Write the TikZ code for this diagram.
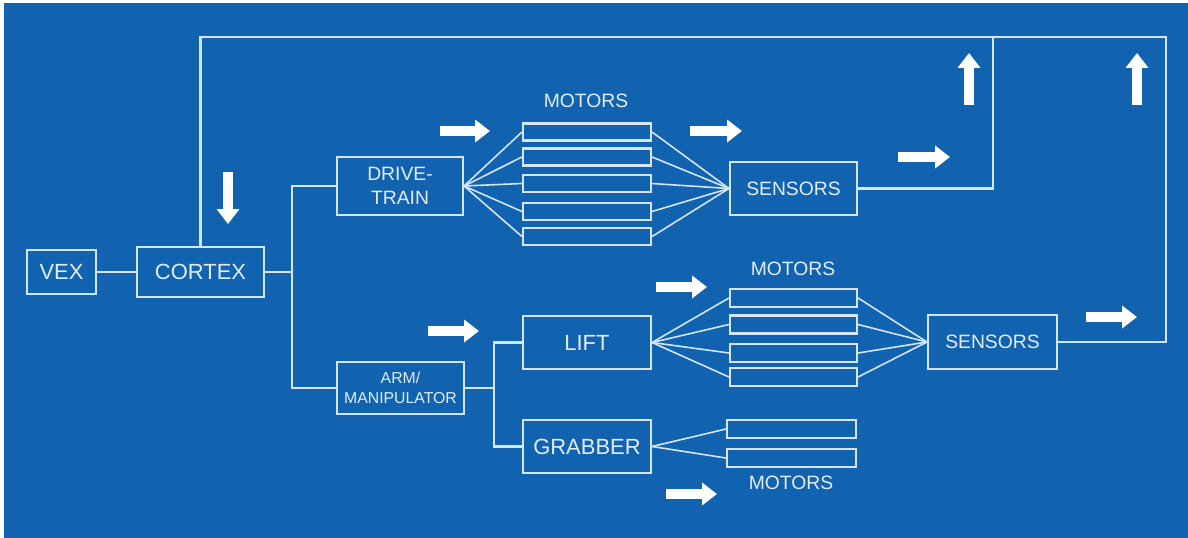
\documentclass[tikz,border=0pt]{standalone}
\usepackage{fontspec}
\setmainfont{Liberation Sans}
\usetikzlibrary{arrows.meta}
\definecolor{bgblue}{RGB}{17,99,176}
\definecolor{linec}{RGB}{214,229,246}
\definecolor{textc}{RGB}{226,236,248}
\tikzset{
  box/.style={draw=linec, line width=1.2pt, rectangle, inner sep=0pt, text=textc, align=center},
  motor/.style={draw=linec, line width=1.2pt, rectangle, inner sep=0pt},
  wire/.style={draw=linec, line width=1.2pt, line join=miter},
  fan/.style={draw=linec, line width=0.9pt},
  bigtxt/.style={font=\fontsize{12.5}{13}\selectfont},
  midtxt/.style={font=\fontsize{11}{14}\selectfont},
  smalltxt/.style={font=\fontsize{9}{11}\selectfont},
  flow/.style={draw=white, line width=6.2pt, -{Triangle[length=8.5pt,width=12.5pt]}},
}
\begin{document}
\begin{tikzpicture}[x=0.02cm, y=-0.02cm]
  % background
  \useasboundingbox (0,0) rectangle (1188,538);
  \fill[white] (0,0) rectangle (1188,538);
  \fill[bgblue] (4,3) rectangle (1188,538);

  % main blocks
  \node[box, bigtxt, minimum width=1.38cm, minimum height=0.88cm] (vex) at (61.5,272) {VEX};
  \node[box, bigtxt, minimum width=2.54cm, minimum height=1.00cm] (cortex) at (200.5,272) {CORTEX};
  \node[box, midtxt, minimum width=2.52cm, minimum height=1.16cm] (drive) at (400,186) {DRIVE-\\TRAIN};
  \node[box, smalltxt, minimum width=2.54cm, minimum height=1.04cm] (arm) at (400.5,388) {ARM/\\MANIPULATOR};
  \node[box, bigtxt, minimum width=2.56cm, minimum height=1.06cm] (lift) at (587,342.5) {LIFT};
  \node[box, bigtxt, minimum width=2.56cm, minimum height=1.06cm] (grab) at (587,446.5) {GRABBER};
  \node[box, midtxt, minimum width=2.54cm, minimum height=1.06cm] (sensA) at (793.5,188.5) {SENSORS};
  \node[box, midtxt, minimum width=2.58cm, minimum height=1.08cm] (sensB) at (992.5,342) {SENSORS};

  % motor bars
  \foreach \i/\y in {1/132,2/157,3/183.5,4/211.5,5/236.5}
    \node[motor, minimum width=2.56cm, minimum height=0.34cm] (dm\i) at (587,\y) {};
  \foreach \i/\y in {1/298,2/324.5,3/353,4/377}
    \node[motor, minimum width=2.54cm, minimum height=0.36cm] (lm\i) at (793.5,\y) {};
  \foreach \i/\y in {1/429,2/458}
    \node[motor, minimum width=2.58cm, minimum height=0.36cm] (gm\i) at (791.5,\y) {};

  % labels
  \node[text=textc, midtxt] (lblA) at (586,101) {MOTORS};
  \node[text=textc, midtxt] (lblB) at (793,269) {MOTORS};
  \node[text=textc, midtxt] (lblC) at (791,482.5) {MOTORS};

  % tree connections
  \coordinate (jL) at (292,272);
  \coordinate (jA) at (494,388);
  \draw[wire] (vex) -- (cortex);
  \draw[wire] (cortex.east) -- (jL);
  \draw[wire] (drive.west) -| (jL) |- (arm.west);
  \draw[wire] (arm.east) -- (jA);
  \draw[wire] (lift.west) -| (jA) |- (grab.west);

  % fan-out to motors and into sensors
  \foreach \i in {1,...,5} {
    \draw[fan] (drive.east) -- (dm\i.west);
    \draw[fan] (dm\i.east) -- (sensA.west);
  }
  \foreach \i in {1,...,4} {
    \draw[fan] (lift.east) -- (lm\i.west);
    \draw[fan] (lm\i.east) -- (sensB.west);
  }
  \foreach \i in {1,2}
    \draw[fan] (grab.east) -- (gm\i.west);

  % feedback loops
  \coordinate (tR) at (1166,37);
  \coordinate (tM) at (993,37);
  \draw[wire] (cortex.north) |- (tR) |- (sensB.east);
  \draw[wire] (tM) |- (sensA.east);

  % flow arrows
  \draw[flow] (440,131) -- (490,131);
  \draw[flow] (690,131) -- (742,131);
  \draw[flow] (898,157) -- (950,157);
  \draw[flow] (1086,317) -- (1137,317);
  \draw[flow] (656,287) -- (707,287);
  \draw[flow] (428,331) -- (479,331);
  \draw[flow] (666,494) -- (717,494);
  \draw[flow] (969,105) -- (969,53);
  \draw[flow] (1137,105) -- (1137,53);
  \draw[flow] (228,172) -- (228,224);
\end{tikzpicture}
\end{document}
